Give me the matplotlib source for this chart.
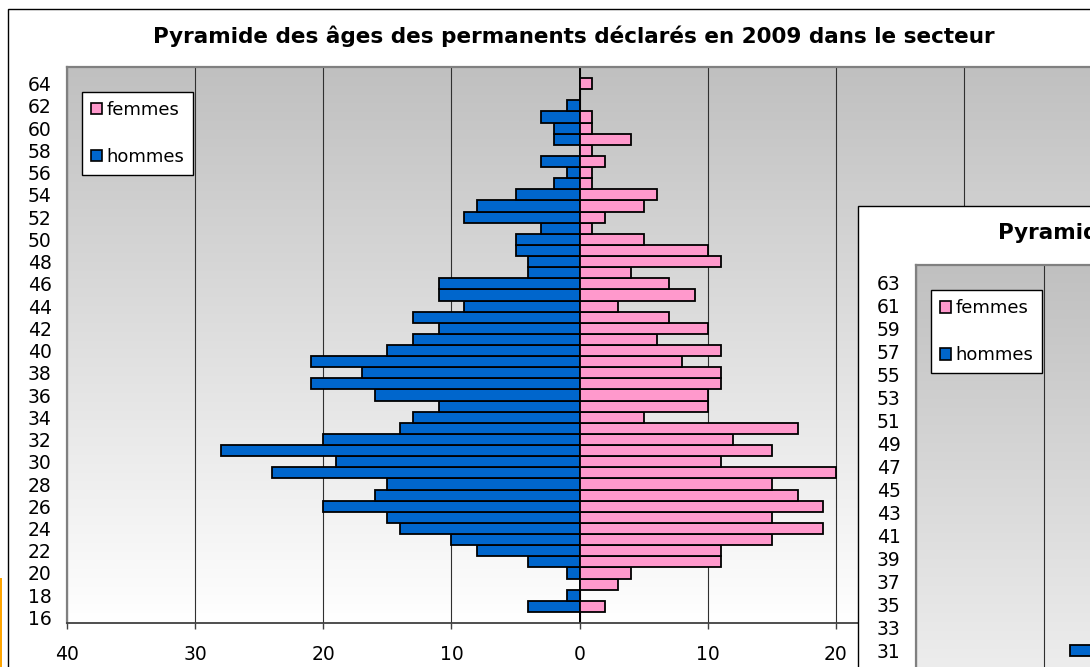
import matplotlib
matplotlib.use("Agg")
import matplotlib.pyplot as plt
import numpy as np
from matplotlib.patches import Patch, Rectangle

# ages 16 to 65, one bar per age
ages = list(range(16, 66))
hommes = [0, 4, 1, 0, 1, 4, 8, 10, 14, 15, 20, 16, 15, 24, 19, 28, 20, 14, 13, 11,
          16, 21, 17, 21, 15, 13, 11, 13, 9, 11, 11, 4, 4, 5, 5, 3, 9, 8, 5, 2,
          1, 3, 0, 2, 2, 3, 1, 0, 0, 0]
femmes = [0, 2, 0, 3, 4, 11, 11, 15, 19, 15, 19, 17, 15, 20, 11, 15, 12, 17, 5, 10,
          10, 11, 11, 8, 11, 6, 10, 7, 3, 9, 7, 4, 11, 10, 5, 1, 2, 5, 6, 1,
          1, 2, 1, 4, 1, 1, 0, 0, 1, 0]
x_ticks = [-40, -30, -20, -10, 0, 10, 20, 30, 40]
title = "Pyramide des âges des permanents déclarés en 2009 dans le secteur"

W, H = 1090, 667
PINK = "#ff99cc"
BLUE = "#0066cc"


def px_axes(fig, left, top, width, height):
    """Add axes placed with pixel coordinates measured from the top-left corner."""
    return fig.add_axes([left / W, 1 - (top + height) / H, width / W, height / H])


def draw_pyramid(ax, ytick_vals, ylim, xlabels=True):
    # grey to white gradient of the plot area
    grad = np.linspace(0, 1, 256).reshape(-1, 1)
    cmap = matplotlib.colors.LinearSegmentedColormap.from_list("g", ["#ffffff", "#c0c0c0"])
    ax.imshow(grad, extent=[0, 1, 0, 1], transform=ax.transAxes, aspect="auto",
              cmap=cmap, origin="lower", zorder=0)

    ax.barh(ages, [-h for h in hommes], height=1.0, color=BLUE, edgecolor="black",
            linewidth=1.3, label="hommes", zorder=2)
    ax.barh(ages, femmes, height=1.0, color=PINK, edgecolor="black",
            linewidth=1.3, label="femmes", zorder=2)

    ax.set_xlim(-40, 40)
    ax.set_ylim(*ylim)
    ax.set_xticks(x_ticks)
    # the 30 and 40 on the right are hidden under the second chart
    ax.set_xticklabels([str(abs(v)) if v < 30 else "" for v in x_ticks])
    ax.set_yticks(ytick_vals)
    ax.set_yticklabels([str(v) for v in ytick_vals])
    ax.tick_params(axis="y", length=0, pad=11, labelsize=13.5)
    ax.tick_params(axis="x", length=4, width=1, color="#404040", pad=12, labelsize=13.5,
                   labelbottom=xlabels)

    ax.grid(axis="x", color="#303030", linewidth=0.8, zorder=1)
    ax.set_axisbelow(True)

    for side in ["top", "left"]:
        ax.spines[side].set_color("#808080")
        ax.spines[side].set_linewidth(1.6)
    ax.spines["bottom"].set_color("#404040")
    ax.spines["bottom"].set_linewidth(1.3)
    ax.spines["right"].set_visible(False)

    handles = [Patch(facecolor=PINK, edgecolor="black", linewidth=1.2),
               Patch(facecolor=BLUE, edgecolor="black", linewidth=1.2)]
    leg = ax.legend(handles, ["femmes", "hommes"], loc="upper left",
                    bbox_to_anchor=(15 / 1025, 1 - 25 / 556), borderaxespad=0,
                    fontsize=13, handlelength=0.6, handleheight=0.6,
                    handletextpad=0.25, labelspacing=1.6, borderpad=0.5,
                    fancybox=False, framealpha=1, edgecolor="black")
    leg.get_frame().set_linewidth(1.0)


fig = plt.figure(figsize=(W / 100, H / 100), dpi=100)
fig.patch.set_facecolor("white")

# orange line at the far left
fig.patches.append(Rectangle((0, 0), 2 / W, (H - 578) / H, transform=fig.transFigure,
                             facecolor="#ffa500", edgecolor="none", zorder=0))
# frame of the main chart (runs past the picture edges)
fig.patches.append(Rectangle((8 / W, -1), 2, 1 + (H - 9) / H, transform=fig.transFigure,
                             facecolor="none", edgecolor="black", linewidth=1.0, zorder=0))

ax = px_axes(fig, 67, 67, 1025.3, 556)
draw_pyramid(ax, list(range(16, 65, 2)), (15.5, 65.5))
fig.text(574 / W, 1 - 36 / H, title, ha="center", va="center",
         fontsize=15.5, fontweight="bold")

# second copy of the chart laid over the bottom right corner
fig.patches.append(Rectangle((858 / W, -1), 2, 1 + (H - 206) / H, transform=fig.transFigure,
                             facecolor="white", edgecolor="black", linewidth=1.0, zorder=1.5))
ax2 = px_axes(fig, 916, 265, 1025.3, 563.5)
ax2.set_zorder(2)
draw_pyramid(ax2, list(range(31, 64, 2)), (15.5, 64.5), xlabels=False)
fig.text(1419 / W, 1 - 232 / H, title, ha="center", va="center",
         fontsize=15.5, fontweight="bold", zorder=3)

fig.savefig("out.png", dpi=100)
